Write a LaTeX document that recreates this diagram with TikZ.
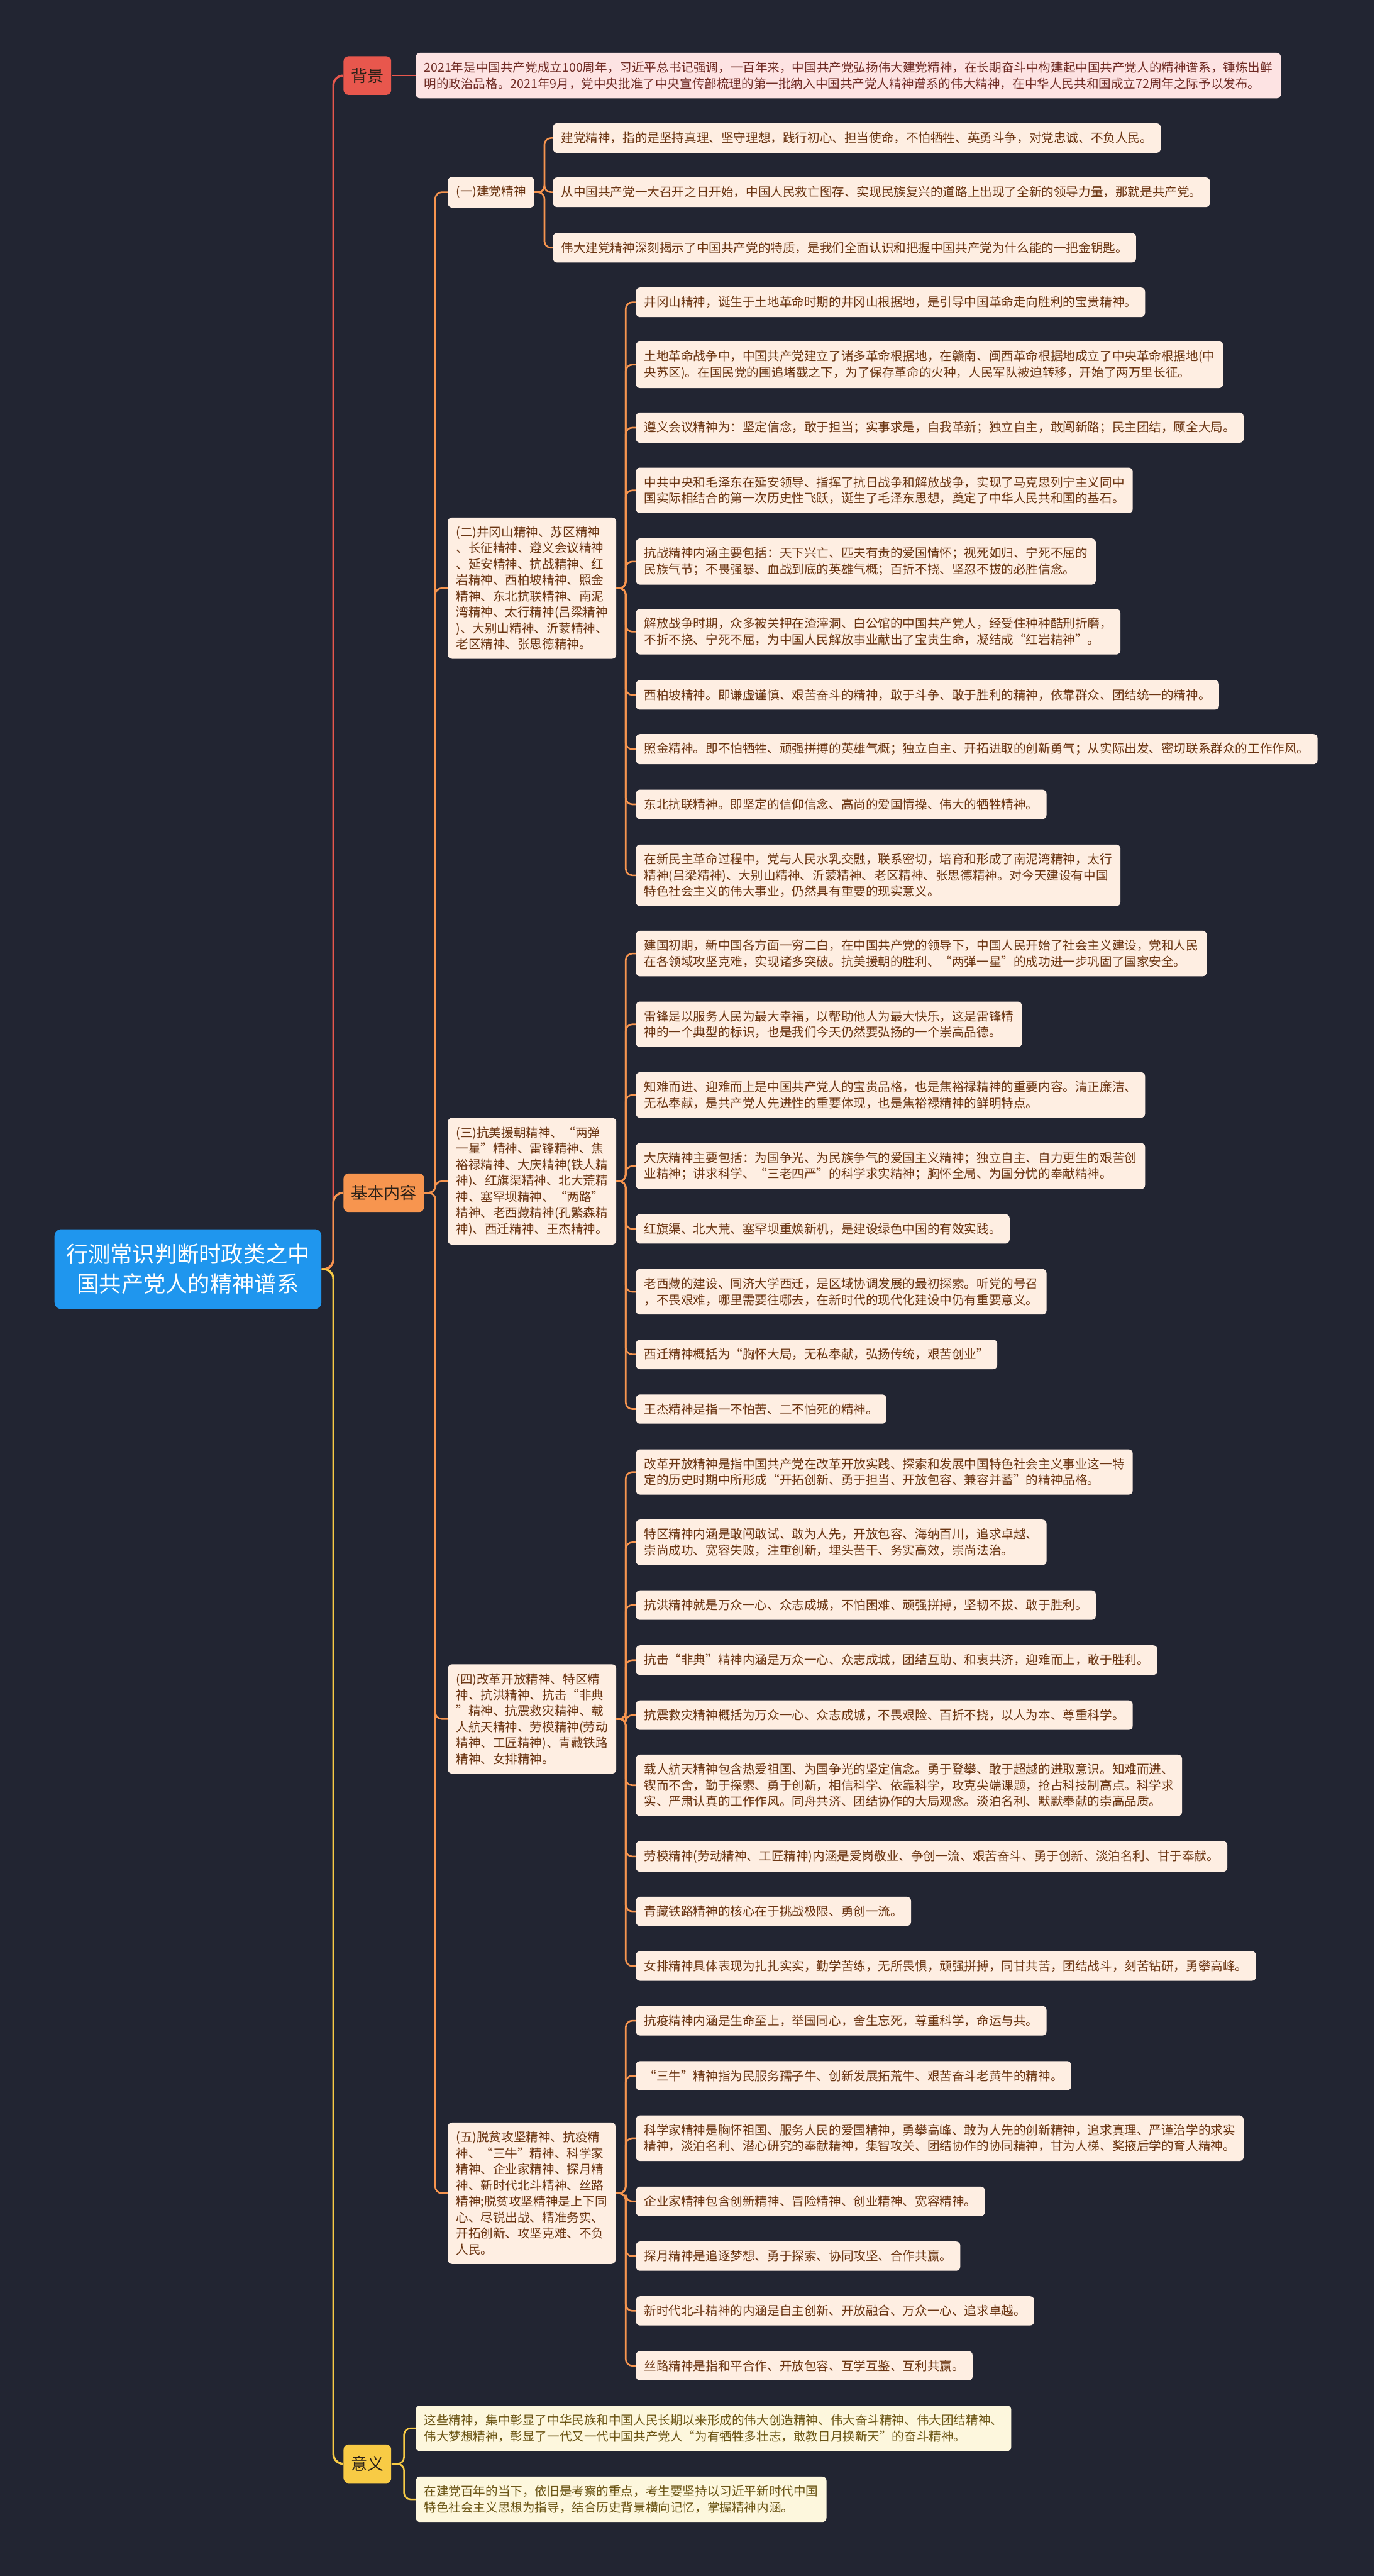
\documentclass[tikz,border=0pt]{standalone}
\usepackage{fontspec}
\setmainfont{Noto Sans CJK SC}
\definecolor{bgdark}{HTML}{222532}
\definecolor{rootblue}{HTML}{1F96EE}
\definecolor{bred}{HTML}{E8574D}
\definecolor{borange}{HTML}{F7954F}
\definecolor{byellow}{HTML}{F8CB45}
\definecolor{peach}{HTML}{FEEEE2}
\definecolor{pinkfill}{HTML}{FDE3E3}
\definecolor{creamfill}{HTML}{FDF7DD}
\definecolor{txtbrown}{HTML}{6B3512}
\definecolor{txtred}{HTML}{702C25}
\definecolor{txtolive}{HTML}{6C5616}
\definecolor{topictext}{HTML}{2B2118}

\begin{document}
\begin{tikzpicture}[x=1pt, y=-1pt,
  font=\fontsize{7.5}{9.75}\selectfont,
  rootnode/.style={fill=rootblue, text=white, rounded corners=4pt, align=center, anchor=west, inner xsep=7pt, inner ysep=9pt, font=\fontsize{13.5}{18}\selectfont},
  topic/.style={rounded corners=3pt, anchor=west, inner xsep=4.5pt, minimum height=23.5pt, text=topictext, font=\fontsize{10}{12}\selectfont},
  leaf/.style={fill=peach, text=txtbrown, rounded corners=2.5pt, align=left, anchor=west, inner xsep=5pt, inner ysep=5.4pt},
  bgleaf/.style={leaf, fill=pinkfill, text=txtred},
  sigleaf/.style={leaf, fill=creamfill, text=txtolive},
  lnk/.style={rounded corners=4pt, line width=1pt},
  trunk/.style={rounded corners=6pt, line width=1.3pt},
]
\useasboundingbox (0,0) rectangle (837,1568);
\fill[bgdark] (0,0) rectangle (837,1568);

\coordinate (trk0) at (203,0);
\coordinate (trk1) at (265,0);
\coordinate (trka) at (331.5,0);
\coordinate (trkb) at (381,0);
\coordinate (trk3) at (246,0);

\node[rootnode] (root) at (33,772.5) {行测常识判断时政类之中\\国共产党人的精神谱系};

\node[topic, fill=bred] (bj) at (209,46) {背景};
\node[topic, fill=borange] (nr) at (209,726) {基本内容};
\node[topic, fill=byellow] (yy) at (209,1499.7) {意义};

\node[bgleaf] (bjtxt) at (253,46) {2021年是中国共产党成立100周年，习近平总书记强调，一百年来，中国共产党弘扬伟大建党精神，在长期奋斗中构建起中国共产党人的精神谱系，锤炼出鲜\\明的政治品格。2021年9月，党中央批准了中央宣传部梳理的第一批纳入中国共产党人精神谱系的伟大精神，在中华人民共和国成立72周年之际予以发布。};

\node[leaf] (s1) at (272.5,117) {(一)建党精神};
\node[leaf] (s2) at (272.5,358) {(二)井冈山精神、苏区精神\\、长征精神、遵义会议精神\\、延安精神、抗战精神、红\\岩精神、西柏坡精神、照金\\精神、东北抗联精神、南泥\\湾精神、太行精神(吕梁精神\\)、大别山精神、沂蒙精神、\\老区精神、张思德精神。};
\node[leaf] (s3) at (272.5,719) {(三)抗美援朝精神、“两弹\\一星”精神、雷锋精神、焦\\裕禄精神、大庆精神(铁人精\\神)、红旗渠精神、北大荒精\\神、塞罕坝精神、“两路”\\精神、老西藏精神(孔繁森精\\神)、西迁精神、王杰精神。};
\node[leaf] (s4) at (272.5,1046.3) {(四)改革开放精神、特区精\\神、抗洪精神、抗击“非典\\”精神、抗震救灾精神、载\\人航天精神、劳模精神(劳动\\精神、工匠精神)、青藏铁路\\精神、女排精神。};
\node[leaf] (s5) at (272.5,1335) {(五)脱贫攻坚精神、抗疫精\\神、“三牛”精神、科学家\\精神、企业家精神、探月精\\神、新时代北斗精神、丝路\\精神;脱贫攻坚精神是上下同\\心、尽锐出战、精准务实、\\开拓创新、攻坚克难、不负\\人民。};

\node[leaf] (a1) at (336.5,84) {建党精神，指的是坚持真理、坚守理想，践行初心、担当使命，不怕牺牲、英勇斗争，对党忠诚、不负人民。};
\node[leaf] (a2) at (336.5,117) {从中国共产党一大召开之日开始，中国人民救亡图存、实现民族复兴的道路上出现了全新的领导力量，那就是共产党。};
\node[leaf] (a3) at (336.5,150.8) {伟大建党精神深刻揭示了中国共产党的特质，是我们全面认识和把握中国共产党为什么能的一把金钥匙。};

\node[leaf] (b1) at (387,184) {井冈山精神，诞生于土地革命时期的井冈山根据地，是引导中国革命走向胜利的宝贵精神。};
\node[leaf] (b2) at (387,222) {土地革命战争中，中国共产党建立了诸多革命根据地，在赣南、闽西革命根据地成立了中央革命根据地(中\\央苏区)。在国民党的围追堵截之下，为了保存革命的火种，人民军队被迫转移，开始了两万里长征。};
\node[leaf] (b3) at (387,260.3) {遵义会议精神为：坚定信念，敢于担当；实事求是，自我革新；独立自主，敢闯新路；民主团结，顾全大局。};
\node[leaf] (b4) at (387,298.5) {中共中央和毛泽东在延安领导、指挥了抗日战争和解放战争，实现了马克思列宁主义同中\\国实际相结合的第一次历史性飞跃，诞生了毛泽东思想，奠定了中华人民共和国的基石。};
\node[leaf] (b5) at (387,341.8) {抗战精神内涵主要包括：天下兴亡、匹夫有责的爱国情怀；视死如归、宁死不屈的\\民族气节；不畏强暴、血战到底的英雄气概；百折不挠、坚忍不拔的必胜信念。};
\node[leaf] (b6) at (387,384.5) {解放战争时期，众多被关押在渣滓洞、白公馆的中国共产党人，经受住种种酷刑折磨，\\不折不挠、宁死不屈，为中国人民解放事业献出了宝贵生命，凝结成“红岩精神”。};
\node[leaf] (b7) at (387,423) {西柏坡精神。即谦虚谨慎、艰苦奋斗的精神，敢于斗争、敢于胜利的精神，依靠群众、团结统一的精神。};
\node[leaf] (b8) at (387,456) {照金精神。即不怕牺牲、顽强拼搏的英雄气概；独立自主、开拓进取的创新勇气；从实际出发、密切联系群众的工作作风。};
\node[leaf] (b9) at (387,489.6) {东北抗联精神。即坚定的信仰信念、高尚的爱国情操、伟大的牺牲精神。};
\node[leaf] (b10) at (387,532.8) {在新民主革命过程中，党与人民水乳交融，联系密切，培育和形成了南泥湾精神，太行\\精神(吕梁精神)、大别山精神、沂蒙精神、老区精神、张思德精神。对今天建设有中国\\特色社会主义的伟大事业，仍然具有重要的现实意义。};

\node[leaf] (c1) at (387,580.4) {建国初期，新中国各方面一穷二白，在中国共产党的领导下，中国人民开始了社会主义建设，党和人民\\在各领域攻坚克难，实现诸多突破。抗美援朝的胜利、“两弹一星”的成功进一步巩固了国家安全。};
\node[leaf] (c2) at (387,623.5) {雷锋是以服务人民为最大幸福，以帮助他人为最大快乐，这是雷锋精\\神的一个典型的标识，也是我们今天仍然要弘扬的一个崇高品德。};
\node[leaf] (c3) at (387,666.5) {知难而进、迎难而上是中国共产党人的宝贵品格，也是焦裕禄精神的重要内容。清正廉洁、\\无私奉献，是共产党人先进性的重要体现，也是焦裕禄精神的鲜明特点。};
\node[leaf] (c4) at (387,709.8) {大庆精神主要包括：为国争光、为民族争气的爱国主义精神；独立自主、自力更生的艰苦创\\业精神；讲求科学、“三老四严”的科学求实精神；胸怀全局、为国分忧的奉献精神。};
\node[leaf] (c5) at (387,748) {红旗渠、北大荒、塞罕坝重焕新机，是建设绿色中国的有效实践。};
\node[leaf] (c6) at (387,786.3) {老西藏的建设、同济大学西迁，是区域协调发展的最初探索。听党的号召\\，不畏艰难，哪里需要往哪去，在新时代的现代化建设中仍有重要意义。};
\node[leaf] (c7) at (387,824.4) {西迁精神概括为“胸怀大局，无私奉献，弘扬传统，艰苦创业”};
\node[leaf] (c8) at (387,857.7) {王杰精神是指一不怕苦、二不怕死的精神。};

\node[leaf] (d1) at (387,896) {改革开放精神是指中国共产党在改革开放实践、探索和发展中国特色社会主义事业这一特\\定的历史时期中所形成“开拓创新、勇于担当、开放包容、兼容并蓄”的精神品格。};
\node[leaf] (d2) at (387,938.8) {特区精神内涵是敢闯敢试、敢为人先，开放包容、海纳百川，追求卓越、\\崇尚成功、宽容失败，注重创新，埋头苦干、务实高效，崇尚法治。};
\node[leaf] (d3) at (387,977) {抗洪精神就是万众一心、众志成城，不怕困难、顽强拼搏，坚韧不拔、敢于胜利。};
\node[leaf] (d4) at (387,1010.5) {抗击“非典”精神内涵是万众一心、众志成城，团结互助、和衷共济，迎难而上，敢于胜利。};
\node[leaf] (d5) at (387,1044) {抗震救灾精神概括为万众一心、众志成城，不畏艰险、百折不挠，以人为本、尊重科学。};
\node[leaf] (d6) at (387,1086.7) {载人航天精神包含热爱祖国、为国争光的坚定信念。勇于登攀、敢于超越的进取意识。知难而进、\\锲而不舍，勤于探索、勇于创新，相信科学、依靠科学，攻克尖端课题，抢占科技制高点。科学求\\实、严肃认真的工作作风。同舟共济、团结协作的大局观念。淡泊名利、默默奉献的崇高品质。};
\node[leaf] (d7) at (387,1130) {劳模精神(劳动精神、工匠精神)内涵是爱岗敬业、争创一流、艰苦奋斗、勇于创新、淡泊名利、甘于奉献。};
\node[leaf] (d8) at (387,1163.4) {青藏铁路精神的核心在于挑战极限、勇创一流。};
\node[leaf] (d9) at (387,1196.7) {女排精神具体表现为扎扎实实，勤学苦练，无所畏惧，顽强拼搏，同甘共苦，团结战斗，刻苦钻研，勇攀高峰。};

\node[leaf] (e1) at (387,1230) {抗疫精神内涵是生命至上，举国同心，舍生忘死，尊重科学，命运与共。};
\node[leaf] (e2) at (387,1263.5) {“三牛”精神指为民服务孺子牛、创新发展拓荒牛、艰苦奋斗老黄牛的精神。};
\node[leaf] (e3) at (387,1301.5) {科学家精神是胸怀祖国、服务人民的爱国精神，勇攀高峰、敢为人先的创新精神，追求真理、严谨治学的求实\\精神，淡泊名利、潜心研究的奉献精神，集智攻关、团结协作的协同精神，甘为人梯、奖掖后学的育人精神。};
\node[leaf] (e4) at (387,1339.9) {企业家精神包含创新精神、冒险精神、创业精神、宽容精神。};
\node[leaf] (e5) at (387,1373.3) {探月精神是追逐梦想、勇于探索、协同攻坚、合作共赢。};
\node[leaf] (e6) at (387,1406.6) {新时代北斗精神的内涵是自主创新、开放融合、万众一心、追求卓越。};
\node[leaf] (e7) at (387,1440) {丝路精神是指和平合作、开放包容、互学互鉴、互利共赢。};

\node[sigleaf] (m1) at (253,1478.1) {这些精神，集中彰显了中华民族和中国人民长期以来形成的伟大创造精神、伟大奋斗精神、伟大团结精神、\\伟大梦想精神，彰显了一代又一代中国共产党人“为有牺牲多壮志，敢教日月换新天”的奋斗精神。};
\node[sigleaf] (m2) at (253,1521.3) {在建党百年的当下，依旧是考察的重点，考生要坚持以习近平新时代中国\\特色社会主义思想为指导，结合历史背景横向记忆，掌握精神内涵。};

\draw[trunk, bred] (root.east) -- (root.east -| trk0) |- (bj.west);
\draw[trunk, borange] (root.east) -- (root.east -| trk0) |- (nr.west);
\draw[trunk, byellow] (root.east) -- (root.east -| trk0) |- (yy.west);

\draw[lnk, bred] (bj) -- (bjtxt);
\foreach \i in {1,...,5}
  \draw[lnk, borange] (nr.east) -- (nr.east -| trk1) |- (s\i.west);
\foreach \i in {1,2}
  \draw[lnk, byellow] (yy.east) -- (yy.east -| trk3) |- (m\i.west);

\foreach \i in {1,...,3}
  \draw[lnk, borange] (s1.east) -- (s1.east -| trka) |- (a\i.west);
\foreach \i in {1,...,10}
  \draw[lnk, borange] (s2.east) -- (s2.east -| trkb) |- (b\i.west);
\foreach \i in {1,...,8}
  \draw[lnk, borange] (s3.east) -- (s3.east -| trkb) |- (c\i.west);
\foreach \i in {1,...,9}
  \draw[lnk, borange] (s4.east) -- (s4.east -| trkb) |- (d\i.west);
\foreach \i in {1,...,7}
  \draw[lnk, borange] (s5.east) -- (s5.east -| trkb) |- (e\i.west);
\end{tikzpicture}
\end{document}
